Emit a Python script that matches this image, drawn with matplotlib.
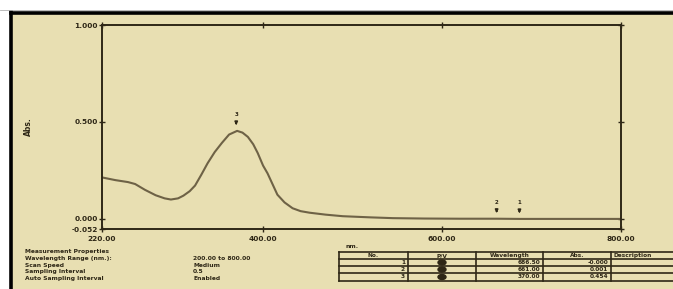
import matplotlib.pyplot as plt
from matplotlib.patches import Rectangle, Ellipse

# spectrum
wavelength = [220, 235, 249, 257, 268, 280, 290, 297, 305, 311, 318, 324, 331, 338,
              346, 354, 362, 371, 377, 383, 389, 394, 400, 405, 411, 416, 424, 433,
              442, 452, 470, 489, 520, 545, 580, 620, 661, 687, 740, 800]
absorb = [0.214, 0.200, 0.190, 0.180, 0.150, 0.122, 0.106, 0.100, 0.106, 0.120, 0.143,
          0.172, 0.228, 0.287, 0.345, 0.392, 0.435, 0.454, 0.445, 0.423, 0.385, 0.340,
          0.275, 0.235, 0.175, 0.125, 0.085, 0.055, 0.040, 0.032, 0.022, 0.014, 0.008,
          0.004, 0.002, 0.001, 0.001, 0.000, 0.000, 0.000]

peak_nm = [686.50, 661.00, 370.00]
peak_abs = [-0.000, 0.001, 0.454]
peak_no = ['1', '2', '3']

xticks = [220, 400, 600, 800]
xtick_labels = ['220.00', '400.00', '600.00', '800.00']
yticks = [-0.052, 0.0, 0.5, 1.0]
ytick_labels = ['-0.052', '0.000', '0.500', '1.000']

props = ['Measurement Properties', 'Wavelength Range (nm.):', 'Scan Speed',
         'Sampling Interval', 'Auto Sampling Interval']
prop_vals = ['', '200.00 to 800.00', 'Medium', '0.5', 'Enabled']
table_head = ['No.', 'P/V', 'Wavelength', 'Abs.', 'Description']

W, H = 673, 289
bg = '#e8dfb2'
ink = '#2e2716'
curve_col = '#6e6246'

fig = plt.figure(figsize=(W / 100, H / 100), dpi=100)
fig.patch.set_facecolor('white')

# overlay in pixel coordinates for frame, texts and the table
ov = fig.add_axes([0, 0, 1, 1])
ov.set_xlim(0, W)
ov.set_ylim(H, 0)
ov.axis('off')
ov.add_patch(Rectangle((11, 12), W, H, facecolor=bg, edgecolor='none'))
ov.plot([11, W], [12.5, 12.5], color='black', lw=2.6)
ov.plot([11, 11], [12, H], color='black', lw=2.6)
ov.plot([0, W], [10, 10], color='#b0b0b0', lw=0.6)

ax = fig.add_axes([102 / W, 1 - 229 / H, 519 / W, 204 / H])
ax.set_facecolor(bg)
ax.plot(wavelength, absorb, color=curve_col, lw=1.5)
ax.set_xlim(220, 800)
ax.set_ylim(-0.052, 1.0)
ax.set_xticks(xticks)
ax.set_xticklabels(xtick_labels)
ax.set_yticks(yticks)
ax.set_yticklabels(ytick_labels)
for s in ax.spines.values():
    s.set_color(ink)
    s.set_linewidth(1.4)
ax.tick_params(direction='inout', length=4, width=1, color=ink, labelsize=5.3,
               labelcolor=ink, top=True, right=True, pad=1)
ax.tick_params(axis='x', pad=3)
for lab in ax.get_xticklabels() + ax.get_yticklabels():
    lab.set_fontweight('bold')
ax.set_ylabel('Abs.', fontsize=5.5, fontweight='bold', color=ink, labelpad=28)

# peak / valley markers
for nm, a, no in zip(peak_nm, peak_abs, peak_no):
    ax.annotate('', xy=(nm, a + 0.015), xytext=(nm, a + 0.06),
                arrowprops=dict(arrowstyle='-|>', color=ink, lw=1.2, mutation_scale=4))
    ax.text(nm, a + 0.07, no, ha='center', va='bottom', fontsize=4,
            fontweight='bold', color=ink)

ov.text(352, 246, 'nm.', fontsize=4.3, fontweight='bold', color=ink, ha='center', va='center')

# measurement properties
for i, (p, v) in enumerate(zip(props, prop_vals)):
    y = 251.5 + i * 6.8
    ov.text(25, y, p, fontsize=4.3, fontweight='bold', color=ink, va='center')
    if v:
        ov.text(193, y, v, fontsize=4.3, fontweight='bold', color=ink, va='center')

# peak table
col_x = [339, 408, 476, 543, 611, 700]
row_y = [252, 259, 266, 273, 281]
for x in col_x[:-1]:
    ov.plot([x, x], [row_y[0], row_y[-1]], color=ink, lw=1.2)
for y in row_y:
    ov.plot([col_x[0], W], [y, y], color=ink, lw=1.2)
for j, h in enumerate(table_head):
    ov.text((col_x[j] + col_x[j + 1]) / 2 if j < 4 else col_x[j] + 3, 255.5, h,
            fontsize=4.2, fontweight='bold', color=ink, va='center',
            ha='center' if j < 4 else 'left')
for i, (no, nm, a) in enumerate(zip(peak_no, peak_nm, peak_abs)):
    yc = (row_y[i + 1] + row_y[i + 2]) / 2
    ov.text(col_x[1] - 3, yc, no, fontsize=4.2, fontweight='bold', color=ink,
            ha='right', va='center')
    ov.add_patch(Ellipse(((col_x[1] + col_x[2]) / 2, yc), 8, 5, color=ink))
    ov.text(col_x[3] - 3, yc, f'{nm:.2f}', fontsize=4.2, fontweight='bold',
            color=ink, ha='right', va='center')
    ov.text(col_x[4] - 3, yc, '-0.000' if a == 0 else f'{a:.3f}', fontsize=4.2,
            fontweight='bold', color=ink, ha='right', va='center')

fig.savefig('out.png', dpi=100, facecolor=fig.get_facecolor())
